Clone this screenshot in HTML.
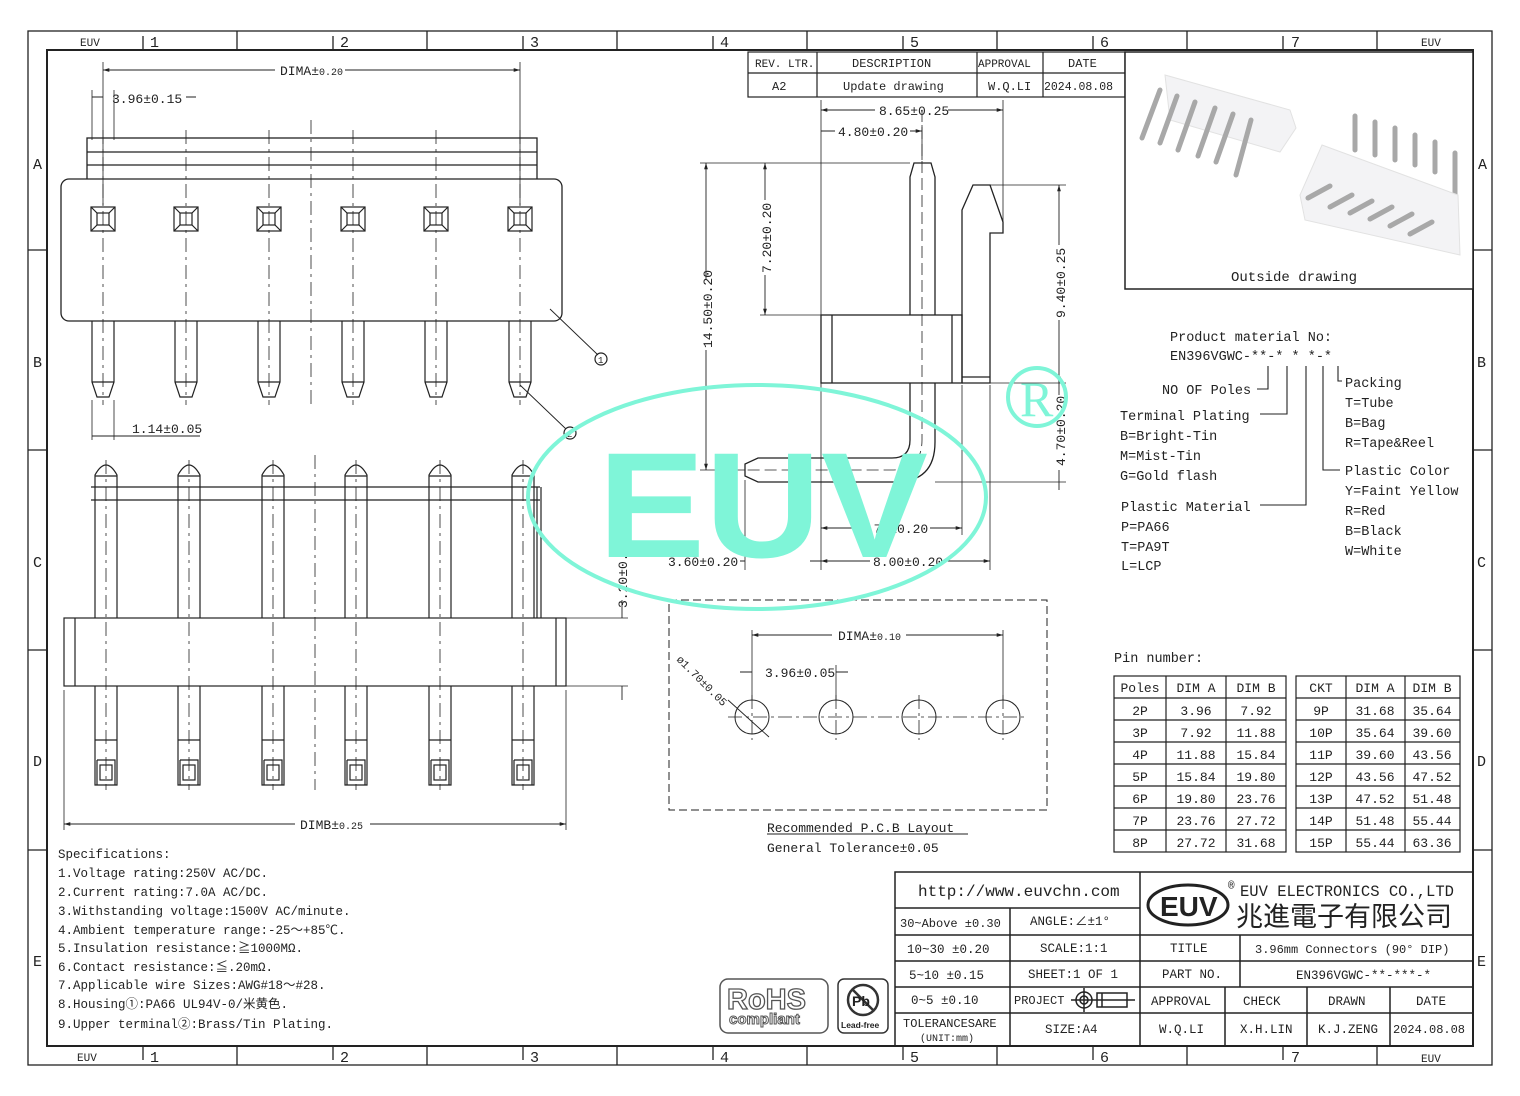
<!DOCTYPE html>
<html><head><meta charset="utf-8"><style>
html,body{margin:0;padding:0;background:#fff;}
svg{display:block;}
text{font-family:"Liberation Mono","Noto Sans CJK SC",monospace;fill:#222;}
.a{font-family:"Liberation Sans",sans-serif;}
</style></head><body>
<svg width="1520" height="1096" viewBox="0 0 1520 1096" xmlns="http://www.w3.org/2000/svg">
<defs>
<marker id="ar" viewBox="0 0 10 10" refX="10" refY="5" markerWidth="7" markerHeight="7" orient="auto-start-reverse"><path d="M0,2 L10,5 L0,8 z" fill="#222"/></marker>
</defs>
<g fill="none" stroke="#222" stroke-width="1.3">
<rect x="28" y="31" width="1464" height="1034"/>
<rect x="47" y="50" width="1426" height="996" stroke-width="2"/>
<path d="M237,31V50M427,31V50M617,31V50M807,31V50M997,31V50M1187,31V50M1377,31V50M237,1046V1065M427,1046V1065M617,1046V1065M807,1046V1065M997,1046V1065M1187,1046V1065M1377,1046V1065"/>
<path d="M143,36V50M333,36V50M523,36V50M713,36V50M903,36V50M1093,36V50M1283,36V50M143,1046V1060M333,1046V1060M523,1046V1060M713,1046V1060M903,1046V1060M1093,1046V1060M1283,1046V1060"/>
<path d="M28,250H47M28,450H47M28,650H47M28,850H47M1473,250H1492M1473,450H1492M1473,650H1492M1473,850H1492"/>
</g>
<g font-size="15">
<text x="80" y="46" font-size="11">EUV</text><text x="1421" y="46" font-size="11">EUV</text>
<text x="77" y="1061" font-size="11">EUV</text><text x="1421" y="1062" font-size="11">EUV</text>
<text x="150" y="47">1</text><text x="340" y="47">2</text><text x="530" y="47">3</text><text x="720" y="47">4</text><text x="910" y="47">5</text><text x="1100" y="47">6</text><text x="1291" y="47">7</text>
<text x="150" y="1062">1</text><text x="340" y="1062">2</text><text x="530" y="1062">3</text><text x="720" y="1062">4</text><text x="910" y="1062">5</text><text x="1100" y="1062">6</text><text x="1291" y="1062">7</text>
<text x="33" y="169">A</text><text x="33" y="367">B</text><text x="33" y="567">C</text><text x="33" y="766">D</text><text x="33" y="966">E</text>
<text x="1478" y="169">A</text><text x="1477" y="367">B</text><text x="1477" y="567">C</text><text x="1477" y="766">D</text><text x="1477" y="966">E</text>
</g>

<!-- TOP VIEW -->
<g fill="none" stroke="#222" stroke-width="1.3">
<rect x="87" y="138" width="450" height="42"/>
<path d="M87,152H537M87,165H537"/>
<rect x="61" y="179" width="501" height="142" rx="8" fill="#fff"/>
</g>
<g fill="none" stroke="#222" stroke-width="1.2">
<g transform="translate(103,0)"><rect x="-12" y="207" width="24" height="24"/><rect x="-6" y="213" width="12" height="12"/><path d="M-12,207l6,6M12,207l-6,6M-12,231l6,-6M12,231l-6,-6"/><path d="M-11,321V382L-6,397H6L11,382V321M-11,382H11"/></g>
<g transform="translate(186,0)"><rect x="-12" y="207" width="24" height="24"/><rect x="-6" y="213" width="12" height="12"/><path d="M-12,207l6,6M12,207l-6,6M-12,231l6,-6M12,231l-6,-6"/><path d="M-11,321V382L-6,397H6L11,382V321M-11,382H11"/></g>
<g transform="translate(269,0)"><rect x="-12" y="207" width="24" height="24"/><rect x="-6" y="213" width="12" height="12"/><path d="M-12,207l6,6M12,207l-6,6M-12,231l6,-6M12,231l-6,-6"/><path d="M-11,321V382L-6,397H6L11,382V321M-11,382H11"/></g>
<g transform="translate(353,0)"><rect x="-12" y="207" width="24" height="24"/><rect x="-6" y="213" width="12" height="12"/><path d="M-12,207l6,6M12,207l-6,6M-12,231l6,-6M12,231l-6,-6"/><path d="M-11,321V382L-6,397H6L11,382V321M-11,382H11"/></g>
<g transform="translate(436,0)"><rect x="-12" y="207" width="24" height="24"/><rect x="-6" y="213" width="12" height="12"/><path d="M-12,207l6,6M12,207l-6,6M-12,231l6,-6M12,231l-6,-6"/><path d="M-11,321V382L-6,397H6L11,382V321M-11,382H11"/></g>
<g transform="translate(520,0)"><rect x="-12" y="207" width="24" height="24"/><rect x="-6" y="213" width="12" height="12"/><path d="M-12,207l6,6M12,207l-6,6M-12,231l6,-6M12,231l-6,-6"/><path d="M-11,321V382L-6,397H6L11,382V321M-11,382H11"/></g>
<path stroke-dasharray="14,5,3,5" stroke-width="0.8" d="M103,130V405M186,130V405M269,130V405M353,130V405M436,130V405M520,130V405M311,120V405"/>
<path stroke-width="0.8" d="M103,62V205M520,62V205M92,90V140M114,90V140M92,400V440M114,400V440"/>
<path stroke-width="0.9" d="M103,70H275M345,70H520" marker-start="url(#ar)" marker-end="url(#ar)"/>
<path stroke-width="0.9" d="M92,97H103M186,97H196M92,436H114M114,436H200"/>
<path stroke-width="0.9" d="M550,309L598,355M520,385L566,429"/>
<circle cx="601" cy="359" r="6"/><circle cx="570" cy="433" r="6"/>
</g>
<g font-size="13">
<text x="280" y="75">DIMA±<tspan font-size="10">0.20</tspan></text>
<text x="112" y="103">3.96±0.15</text>
<text x="132" y="433">1.14±0.05</text>
<text x="598" y="363" font-size="9">1</text><text x="567" y="437" font-size="9">2</text>
</g>

<!-- BOTTOM VIEW -->
<g fill="none" stroke="#222" stroke-width="1.2">
<path d="M91,487H540M91,500H540M537,487V618M541,487V618"/>
<rect x="64" y="618" width="502" height="68" fill="#fff"/>
<path d="M75,618V686M556,618V686"/>
<g transform="translate(106,0)"><path d="M-11,618V475Q0,455 11,475V618M-11,476H11"/><path d="M-11,686V785H11V686M-11,740H11M-9,760H9V785M-9,760V785"/><rect x="-6" y="765" width="12" height="15"/></g>
<g transform="translate(189,0)"><path d="M-11,618V475Q0,455 11,475V618M-11,476H11"/><path d="M-11,686V785H11V686M-11,740H11M-9,760H9V785M-9,760V785"/><rect x="-6" y="765" width="12" height="15"/></g>
<g transform="translate(273,0)"><path d="M-11,618V475Q0,455 11,475V618M-11,476H11"/><path d="M-11,686V785H11V686M-11,740H11M-9,760H9V785M-9,760V785"/><rect x="-6" y="765" width="12" height="15"/></g>
<g transform="translate(356,0)"><path d="M-11,618V475Q0,455 11,475V618M-11,476H11"/><path d="M-11,686V785H11V686M-11,740H11M-9,760H9V785M-9,760V785"/><rect x="-6" y="765" width="12" height="15"/></g>
<g transform="translate(440,0)"><path d="M-11,618V475Q0,455 11,475V618M-11,476H11"/><path d="M-11,686V785H11V686M-11,740H11M-9,760H9V785M-9,760V785"/><rect x="-6" y="765" width="12" height="15"/></g>
<g transform="translate(523,0)"><path d="M-11,618V475Q0,455 11,475V618M-11,476H11"/><path d="M-11,686V785H11V686M-11,740H11M-9,760H9V785M-9,760V785"/><rect x="-6" y="765" width="12" height="15"/></g>
<path stroke-dasharray="14,5,3,5" stroke-width="0.8" d="M106,460V790M189,460V790M273,460V790M356,460V790M440,460V790M523,460V790M315,455V790"/>
<path stroke-width="0.8" d="M64,690V830M566,690V830M566,618H628M566,686H628"/>
<path stroke-width="0.9" d="M64,824H295M370,824H566" marker-start="url(#ar)" marker-end="url(#ar)"/>
<path stroke-width="0.9" d="M622,600V618M622,686V700"/>
</g>
<g font-size="13">
<text x="300" y="829">DIMB±<tspan font-size="10">0.25</tspan></text>
<text x="627" y="608" transform="rotate(-90 627 608)">3.20±0.20</text>
</g>

<!-- SIDE VIEW -->
<g fill="none" stroke="#222" stroke-width="1.3">
<path d="M910,315V177L914,163H931L935,177V315"/>
<rect x="821" y="315" width="141" height="68"/>
<path d="M832,315V383M952,315V383"/>
<path d="M962,383V210L973,185H990L1003,222V233H990V383H962M962,377H990"/>
<path d="M910,383V440Q910,458 892,458H758L745,464V476L758,482H895Q935,482 935,442V383"/>
<path stroke-dasharray="12,5" stroke-width="0.8" d="M922,110V383M922,383V440Q922,470 892,470H745"/>
<path stroke-width="0.8" d="M821,100V570M1003,100V230M922,125V160M700,163H910M760,315H821M990,185H1066M990,383H1066M935,482H1066M700,470H745M962,385V535M990,385V570M745,480V570"/>
<path stroke-width="0.9" d="M821,110H875M948,110H1003" marker-start="url(#ar)" marker-end="url(#ar)"/>
<path stroke-width="0.9" d="M821,131H835M910,131H922" marker-end="url(#ar)"/>
<path stroke-width="0.9" d="M706,163V280M706,350V470" marker-start="url(#ar)" marker-end="url(#ar)"/>
<path stroke-width="0.9" d="M765,163V200M765,275V315" marker-start="url(#ar)" marker-end="url(#ar)"/>
<path stroke-width="0.9" d="M1059,185V245M1059,320V383" marker-start="url(#ar)" marker-end="url(#ar)"/>
<path stroke-width="0.9" d="M1059,383V395M1059,470V490"/>
<path stroke-width="0.9" d="M821,528H855M930,528H962" marker-start="url(#ar)" marker-end="url(#ar)"/>
<path stroke-width="0.9" d="M821,561H870M945,561H990" marker-start="url(#ar)" marker-end="url(#ar)"/>
<path stroke-width="0.9" d="M740,561H745M810,561H821"/>
</g>
<g font-size="13">
<text x="879" y="115">8.65±0.25</text>
<text x="838" y="136">4.80±0.20</text>
<text x="712" y="348" transform="rotate(-90 712 348)">14.50±0.20</text>
<text x="771" y="273" transform="rotate(-90 771 273)">7.20±0.20</text>
<text x="1065" y="318" transform="rotate(-90 1065 318)">9.40±0.25</text>
<text x="1065" y="466" transform="rotate(-90 1065 466)">4.70±0.20</text>
<text x="858" y="533">6.70±0.20</text>
<text x="873" y="566">8.00±0.20</text>
<text x="668" y="566">3.60±0.20</text>
</g>

<!-- PCB LAYOUT -->
<g fill="none" stroke="#222" stroke-width="1">
<rect x="669" y="600" width="378" height="210" stroke-dasharray="8,4"/>
<circle cx="752" cy="717" r="17"/><circle cx="836" cy="717" r="17"/><circle cx="919" cy="717" r="17"/><circle cx="1003" cy="717" r="17"/>
<path stroke-dasharray="14,4,3,4" stroke-width="0.8" d="M728,717H1028M752,695V740M836,695V740M919,695V740M1003,695V740"/>
<path stroke-width="0.8" d="M752,630V700M1003,630V700M836,665V700"/>
<path stroke-width="0.9" d="M752,635H832M906,635H1003" marker-start="url(#ar)" marker-end="url(#ar)"/>
<path stroke-width="0.9" d="M740,672H752M836,672H848"/>
<path stroke-width="0.9" d="M728,700L769,737"/>
<path d="M767,834H968"/>
</g>
<g font-size="13">
<text x="838" y="640">DIMA±<tspan font-size="10">0.10</tspan></text>
<text x="765" y="677">3.96±0.05</text>
<text x="676" y="660" font-size="11" transform="rotate(45 676 660)">ø1.70±0.05</text>
<text x="767" y="832">Recommended P.C.B Layout</text>
<text x="767" y="852">General Tolerance±0.05</text>
</g>

<!-- WATERMARK -->
<g>
<ellipse cx="757" cy="497" rx="229" ry="112" fill="none" stroke="#7ff5d8" stroke-width="4"/>
<text x="598" y="557" class="a" font-size="150" font-weight="bold" style="fill:#7ff5d8" textLength="330" lengthAdjust="spacingAndGlyphs">EUV</text>
<circle cx="1037" cy="397" r="29" fill="none" stroke="#7ff5d8" stroke-width="4"/>
<text x="1020" y="416" font-size="50" style="fill:#7ff5d8;font-family:'Liberation Serif',serif">R</text>
</g>

<!-- REV TABLE -->
<g fill="none" stroke="#222" stroke-width="1.2">
<rect x="748" y="52" width="377" height="45"/>
<path d="M748,73H1125M817,52V97M977,52V97M1043,52V97"/>
</g>
<g font-size="12">
<text x="755" y="67" font-size="11">REV. LTR.</text><text x="852" y="67">DESCRIPTION</text><text x="978" y="67" font-size="11">APPROVAL</text><text x="1068" y="67">DATE</text>
<text x="772" y="90">A2</text><text x="843" y="90">Update drawing</text><text x="988" y="90">W.Q.LI</text><text x="1044" y="90" font-size="11.5">2024.08.08</text>
</g>

<!-- PHOTO -->
<g>
<rect x="1125" y="52" width="348" height="237" fill="#fff" stroke="#222" stroke-width="1.5"/>
<path d="M1165,75L1290,110L1296,128L1280,152L1170,120Z" fill="#f3f3f5" stroke="#e2e2e2"/>
<g stroke="#a8a8a8" stroke-width="5" stroke-linecap="round">
<path d="M1160,90L1142,138M1177,96L1160,143M1195,102L1178,150M1215,108L1198,156M1233,114L1216,162M1251,120L1236,175"/>
<path d="M1355,116V150M1375,122V155M1395,128V160M1415,135V165M1435,142V172M1455,153V195"/>
</g>
<path d="M1322,145L1458,195L1460,255L1305,220L1300,195Z" fill="#f3f3f5" stroke="#e2e2e2"/>
<g stroke="#a8a8a8" stroke-width="5" stroke-linecap="round">
<path d="M1308,198L1330,186M1330,207L1352,195M1350,213L1372,201M1370,219L1392,207M1390,226L1412,214M1410,234L1432,222"/>
</g>
<text x="1231" y="281" font-size="14">Outside drawing</text>
</g>

<!-- PRODUCT MATERIAL -->
<g font-size="13.5">
<text x="1170" y="341">Product material No:</text>
<text x="1170" y="360">EN396VGWC-**-* * *-*</text>
<text x="1162" y="394">NO OF Poles</text>
<text x="1120" y="420">Terminal Plating</text>
<text x="1120" y="440">B=Bright-Tin</text>
<text x="1120" y="460">M=Mist-Tin</text>
<text x="1120" y="480">G=Gold flash</text>
<text x="1121" y="511">Plastic Material</text>
<text x="1121" y="531">P=PA66</text>
<text x="1121" y="551">T=PA9T</text>
<text x="1121" y="570">L=LCP</text>
<text x="1345" y="387">Packing</text>
<text x="1345" y="407">T=Tube</text>
<text x="1345" y="427">B=Bag</text>
<text x="1345" y="447">R=Tape&amp;Reel</text>
<text x="1345" y="475">Plastic Color</text>
<text x="1345" y="495">Y=Faint Yellow</text>
<text x="1345" y="515">R=Red</text>
<text x="1345" y="535">B=Black</text>
<text x="1345" y="555">W=White</text>
</g>
<g fill="none" stroke="#222" stroke-width="1.1">
<path d="M1268,366V389H1257M1287,366V414H1260M1306,366V505H1260M1323,366V470H1340M1338,366V381H1342"/>
</g>

<!-- PIN TABLE -->
<g font-size="13.5"><text x="1114" y="662">Pin number:</text></g>
<g fill="none" stroke="#222" stroke-width="1.2">
<rect x="1114" y="676" width="172" height="176"/>
<rect x="1296" y="676" width="164" height="176"/>
<path d="M1166,676V852M1226,676V852M1346,676V852M1405,676V852"/>
<path d="M1114,698H1286M1114,720H1286M1114,742H1286M1114,764H1286M1114,786H1286M1114,808H1286M1114,830H1286"/>
<path d="M1296,698H1460M1296,720H1460M1296,742H1460M1296,764H1460M1296,786H1460M1296,808H1460M1296,830H1460"/>
</g>
<g font-size="13" text-anchor="middle">
<text x="1140" y="692">Poles</text><text x="1196" y="692">DIM A</text><text x="1256" y="692">DIM B</text>
<text x="1321" y="692">CKT</text><text x="1375" y="692">DIM A</text><text x="1432" y="692">DIM B</text>
<text x="1140" y="715">2P</text><text x="1196" y="715">3.96</text><text x="1256" y="715">7.92</text><text x="1321" y="715">9P</text><text x="1375" y="715">31.68</text><text x="1432" y="715">35.64</text>
<text x="1140" y="737">3P</text><text x="1196" y="737">7.92</text><text x="1256" y="737">11.88</text><text x="1321" y="737">10P</text><text x="1375" y="737">35.64</text><text x="1432" y="737">39.60</text>
<text x="1140" y="759">4P</text><text x="1196" y="759">11.88</text><text x="1256" y="759">15.84</text><text x="1321" y="759">11P</text><text x="1375" y="759">39.60</text><text x="1432" y="759">43.56</text>
<text x="1140" y="781">5P</text><text x="1196" y="781">15.84</text><text x="1256" y="781">19.80</text><text x="1321" y="781">12P</text><text x="1375" y="781">43.56</text><text x="1432" y="781">47.52</text>
<text x="1140" y="803">6P</text><text x="1196" y="803">19.80</text><text x="1256" y="803">23.76</text><text x="1321" y="803">13P</text><text x="1375" y="803">47.52</text><text x="1432" y="803">51.48</text>
<text x="1140" y="825">7P</text><text x="1196" y="825">23.76</text><text x="1256" y="825">27.72</text><text x="1321" y="825">14P</text><text x="1375" y="825">51.48</text><text x="1432" y="825">55.44</text>
<text x="1140" y="847">8P</text><text x="1196" y="847">27.72</text><text x="1256" y="847">31.68</text><text x="1321" y="847">15P</text><text x="1375" y="847">55.44</text><text x="1432" y="847">63.36</text>
</g>

<!-- SPECS -->
<g font-size="12.5">
<text x="58" y="858">Specifications:</text>
<text x="58" y="877">1.Voltage rating:250V AC/DC.</text>
<text x="58" y="896">2.Current rating:7.0A AC/DC.</text>
<text x="58" y="915">3.Withstanding voltage:1500V AC/minute.</text>
<text x="58" y="934">4.Ambient temperature range:-25～+85℃.</text>
<text x="58" y="952">5.Insulation resistance:≧1000MΩ.</text>
<text x="58" y="971">6.Contact resistance:≦.20mΩ.</text>
<text x="58" y="989">7.Applicable wire Sizes:AWG#18～#28.</text>
<text x="58" y="1008">8.Housing①:PA66 UL94V-0/米黄色.</text>
<text x="58" y="1028">9.Upper terminal②:Brass/Tin Plating.</text>
</g>

<!-- ROHS / PB -->
<g>
<rect x="720" y="979" width="108" height="54" rx="8" fill="none" stroke="#555" stroke-width="1.5"/>
<text x="727" y="1009" class="a" font-size="29" font-weight="bold" style="fill:#fff;stroke:#555;stroke-width:1.3">RoHS</text>
<text x="729" y="1024" class="a" font-size="15" font-weight="bold" style="fill:#fff;stroke:#555;stroke-width:1">compliant</text>
<rect x="838" y="979" width="50" height="54" rx="6" fill="none" stroke="#333" stroke-width="1.5"/>
<circle cx="863" cy="1000" r="15" fill="none" stroke="#333" stroke-width="2.5"/>
<path d="M852,989L874,1011" stroke="#333" stroke-width="2.5"/>
<text x="852" y="1006" class="a" font-size="14" font-weight="bold">Pb</text>
<text x="841" y="1028" class="a" font-size="8.5" font-weight="bold">Lead-free</text>
</g>

<!-- TITLE BLOCK -->
<g fill="none" stroke="#222" stroke-width="1.5">
<rect x="895" y="872" width="578" height="174"/>
<path d="M895,908H1140M895,935H1473M895,961H1473M895,987H1473M895,1013H1473"/>
<path d="M1140,872V1046M1010,908V1046M1240,935V987M1225,987V1046M1307,987V1046M1390,987V1046"/>
<ellipse cx="1188" cy="905" rx="40" ry="20" stroke-width="3"/>
<circle cx="1084" cy="1000" r="8"/><circle cx="1084" cy="1000" r="4"/><path d="M1071,1000H1097M1084,988V1012M1097,993L1127,993V1007L1097,1007ZM1102,993V1007M1097,1000H1135"/>
</g>
<g font-size="12.5">
<text x="918" y="896" font-size="16">http://www.euvchn.com</text>
<text x="1160" y="916" class="a" font-size="28" font-weight="bold">EUV</text>
<text x="1228" y="889" font-size="11">®</text>
<text x="1240" y="896" font-size="15.5">EUV ELECTRONICS CO.,LTD</text>
<text x="1236" y="926" font-size="27" font-family="'Noto Serif CJK SC','Noto Sans CJK SC',serif">兆進電子有限公司</text>
<text x="900" y="927" font-size="12">30~Above ±0.30</text>
<text x="1030" y="925">ANGLE:∠±1°</text>
<text x="907" y="953">10~30  ±0.20</text>
<text x="1040" y="952">SCALE:1:1</text>
<text x="1170" y="952">TITLE</text>
<text x="1255" y="953" font-size="12">3.96mm Connectors (90° DIP)</text>
<text x="909" y="979">5~10   ±0.15</text>
<text x="1028" y="978">SHEET:1 OF 1</text>
<text x="1162" y="978">PART NO.</text>
<text x="1296" y="979">EN396VGWC-**-***-*</text>
<text x="911" y="1004">0~5    ±0.10</text>
<text x="1014" y="1004" font-size="12">PROJECT</text>
<text x="1151" y="1005">APPROVAL</text><text x="1243" y="1005">CHECK</text><text x="1328" y="1005">DRAWN</text><text x="1416" y="1005">DATE</text>
<text x="903" y="1027" font-size="12">TOLERANCESARE</text>
<text x="920" y="1041" font-size="10">(UNIT:mm)</text>
<text x="1045" y="1033">SIZE:A4</text>
<text x="1159" y="1033">W.Q.LI</text><text x="1240" y="1033">X.H.LIN</text><text x="1318" y="1033">K.J.ZENG</text><text x="1393" y="1033" font-size="12">2024.08.08</text>
</g>
</svg>
</body></html>
